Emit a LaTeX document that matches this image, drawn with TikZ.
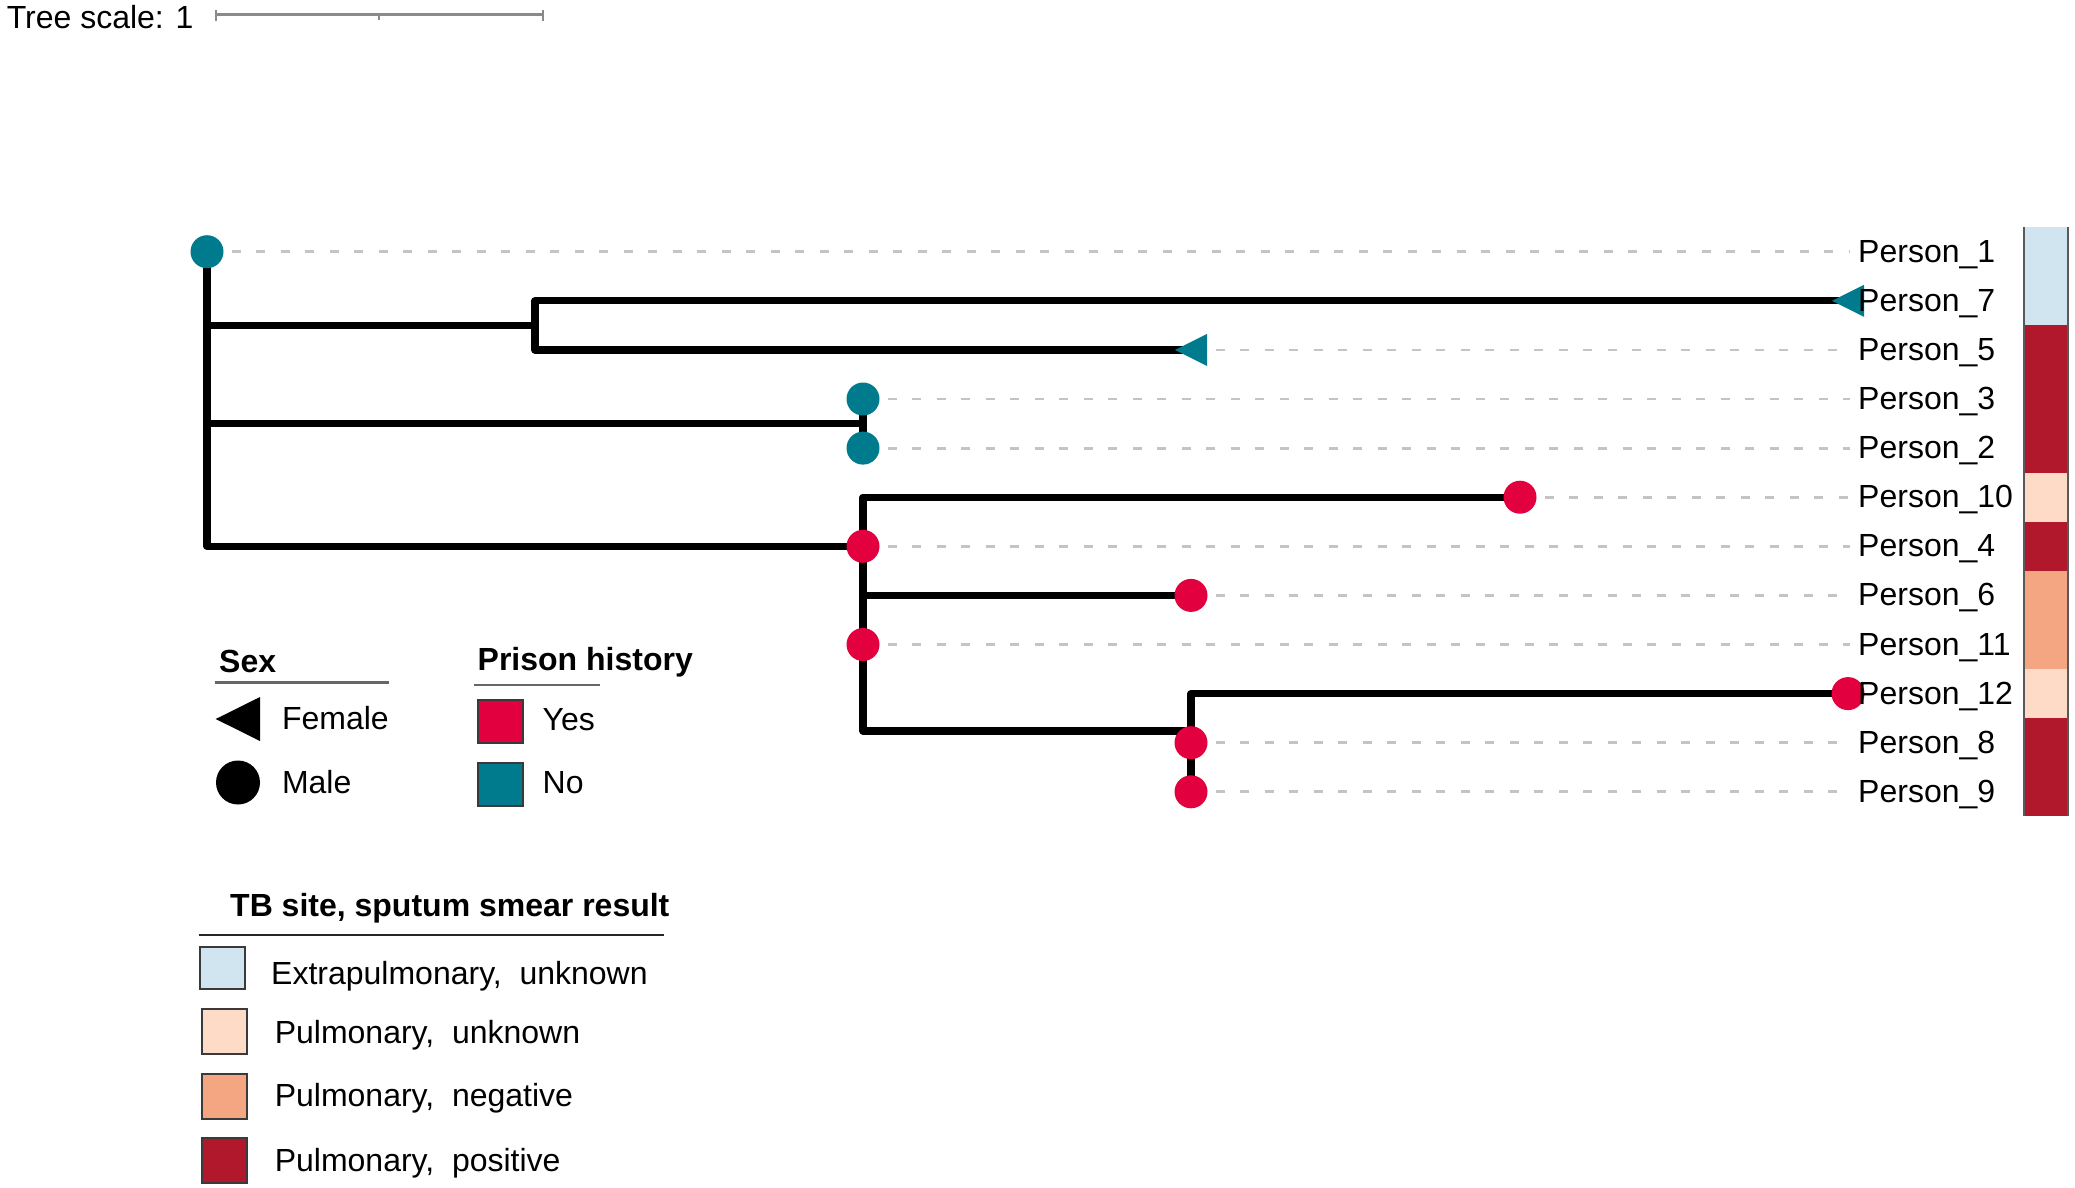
\documentclass[tikz,border=0pt]{standalone}
\usepackage{fontspec}
\setmainfont{Liberation Sans}
\definecolor{tealc}{HTML}{007B8E}
\definecolor{redc}{HTML}{E2003F}
\definecolor{lblue}{HTML}{D1E5F0}
\definecolor{peach}{HTML}{FDDBC7}
\definecolor{salmon}{HTML}{F4A582}
\definecolor{dred}{HTML}{B2182B}
\definecolor{leadgray}{HTML}{C4C4C4}
\definecolor{scalegray}{HTML}{8A8A8A}
\definecolor{sqedge}{HTML}{3A3A3A}
\begin{document}
\begin{tikzpicture}[x=1pt,y=-1pt,
  branch/.style={line width=7.2pt, line join=round, line cap=round},
  leader/.style={line width=2.8pt, leadgray, dash pattern=on 9pt off 15.5pt},
  lab/.style={anchor=base west, inner sep=0pt, font=\fontsize{32}{38}\selectfont},
  labb/.style={anchor=base west, inner sep=0pt, font=\fontsize{32}{38}\selectfont\bfseries},
  uline/.style={line width=2.5pt, black!60},
  uline2/.style={line width=2.5pt, black!85},
  sqbox/.style={draw=sqedge, line width=2pt},
  scaleline/.style={line width=3pt, scalegray},
  scaletick/.style={line width=2pt, scalegray}]
\useasboundingbox (0,0) rectangle (2075,1187);
\fill[white] (0,0) rectangle (2075,1187);

% ---------- tree scale ----------
\node[lab] (ts) at (6.6,28.3) {Tree scale: 1};
\coordinate (sb0) at (215.5,14.3);
\coordinate (sbm) at (379,14.3);
\coordinate (sb1) at (542.7,14.3);
\draw[scaleline] (sb0) -- (sb1);
\draw[scaletick] (sb0) ++(0,-4.5) -- ++(0,11);
\draw[scaletick] (sb1) ++(0,-4.5) -- ++(0,11);
\draw[scaletick] (sbm) -- ++(0,5.5);

% ---------- tree coordinates ----------
\coordinate (root) at (207,251.7);
\coordinate (A) at (535,325.35);
\coordinate (B) at (863,423.55);
\coordinate (C) at (863,546.3);
\coordinate (D) at (1191,731);
\coordinate (p1) at (207,251.7);
\coordinate (p7) at (1848,300.8);
\coordinate (p5) at (1191,349.9);
\coordinate (p3) at (863,399.0);
\coordinate (p2) at (863,448.1);
\coordinate (p10) at (1520,497.2);
\coordinate (p4) at (863,546.3);
\coordinate (p6) at (1191,595.4);
\coordinate (p11) at (863,644.5);
\coordinate (p12) at (1848,693.6);
\coordinate (p8) at (1191,742.7);
\coordinate (p9) at (1191,791.8);
\coordinate (labx) at (1850,0);

% leaders
\foreach \p in {p1,p5,p3,p2,p10,p4,p6,p11,p8,p9}
  \draw[leader] (\p) -- (\p -| labx);

% branches
\draw[branch] (root) |- (A);
\draw[branch] (root) |- (B);
\draw[branch] (root) |- (C);
\draw[branch] (A) |- (p7);
\draw[branch] (A) |- (p5);
\draw[branch] (B) |- (p3);
\draw[branch] (B) |- (p2);
\draw[branch] (C) |- (p10);
\draw[branch] (C) |- (p6);
\draw[branch] (C) |- (p11);
\draw[branch] (C) |- (D);
\draw[branch] (D) |- (p12);
\draw[branch] (D) |- (p8);
\draw[branch] (D) |- (p9);

% markers
\fill[tealc] (p1) circle[radius=16.5];
\fill[tealc] (p3) circle[radius=16.5];
\fill[tealc] (p2) circle[radius=16.5];
\fill[redc] (p10) circle[radius=16.5];
\fill[redc] (p4) circle[radius=16.5];
\fill[redc] (p6) circle[radius=16.5];
\fill[redc] (p11) circle[radius=16.5];
\fill[redc] (p12) circle[radius=16.5];
\fill[redc] (p8) circle[radius=16.5];
\fill[redc] (p9) circle[radius=16.5];
\fill[tealc] (p7) ++(-16,0) -- ++(32,-16) -- ++(0,32) -- cycle;
\fill[tealc] (p5) ++(-16,0) -- ++(32,-16) -- ++(0,32) -- cycle;

% labels
\node[lab] (l1) at (1858,262.2) {Person\_1};
\node[lab] (l7) at (1858,311.3) {Person\_7};
\node[lab] (l5) at (1858,360.4) {Person\_5};
\node[lab] (l3) at (1858,409.5) {Person\_3};
\node[lab] (l2) at (1858,458.6) {Person\_2};
\node[lab] (l10) at (1858,507.7) {Person\_10};
\node[lab] (l4) at (1858,556.8) {Person\_4};
\node[lab] (l6) at (1858,605.9) {Person\_6};
\node[lab] (l11) at (1858,655.0) {Person\_11};
\node[lab] (l12) at (1858,704.1) {Person\_12};
\node[lab] (l8) at (1858,753.2) {Person\_8};
\node[lab] (l9) at (1858,802.3) {Person\_9};

% colour strip
\fill[lblue] (2024,227.1) rectangle (2068,325.35);
\fill[dred]  (2024,325.35) rectangle (2068,472.65);
\fill[peach] (2024,472.65) rectangle (2068,521.75);
\fill[dred]  (2024,521.75) rectangle (2068,570.85);
\fill[salmon] (2024,570.85) rectangle (2068,669.05);
\fill[peach] (2024,669.05) rectangle (2068,718.15);
\fill[dred]  (2024,718.15) rectangle (2068,816.4);
\draw[black!65, line width=1.5pt] (2024,227.1) -- (2024,816.4) (2068,227.1) -- (2068,816.4);

% ---------- legend: sex ----------
\node[labb] (sexT) at (219,672.7) {Sex};
\draw[uline] (214.6,682.7) -- (389,682.7);
\fill (215.7,719) -- (260,697) -- (260,741) -- cycle;
\node[lab] (fem) at (281.8,729) {Female};
\fill (238,782.5) circle[radius=22];
\node[lab] (male) at (281.8,793) {Male};

% ---------- legend: prison ----------
\node[labb] (prT) at (477.5,670) {Prison history};
\draw[uline] (474,685) -- (599.6,685);
\filldraw[sqbox, fill=redc] (477.5,700) rectangle (523,742.7);
\node[lab] (yes) at (542.5,730) {Yes};
\filldraw[sqbox, fill=tealc] (477.5,762.7) rectangle (523,806);
\node[lab] (no) at (542.5,793) {No};

% ---------- legend: TB ----------
\node[labb] (tbT) at (230,916.7) {TB site, sputum smear result};
\draw[uline2] (198.6,935) -- (664,935);
\filldraw[sqbox, fill=lblue] (200,946.7) rectangle (245,989.3);
\node[lab] (tb1) at (271,984) {Extrapulmonary,~~unknown};
\filldraw[sqbox, fill=peach] (202,1009) rectangle (247,1054);
\node[lab] (tb2) at (274.6,1043) {Pulmonary,~~unknown};
\filldraw[sqbox, fill=salmon] (202,1074) rectangle (247,1119);
\node[lab] (tb3) at (274.6,1106.7) {Pulmonary,~~negative};
\filldraw[sqbox, fill=dred] (202,1138) rectangle (247,1182.7);
\node[lab] (tb4) at (274.6,1171.7) {Pulmonary,~~positive};
\end{tikzpicture}
\end{document}
